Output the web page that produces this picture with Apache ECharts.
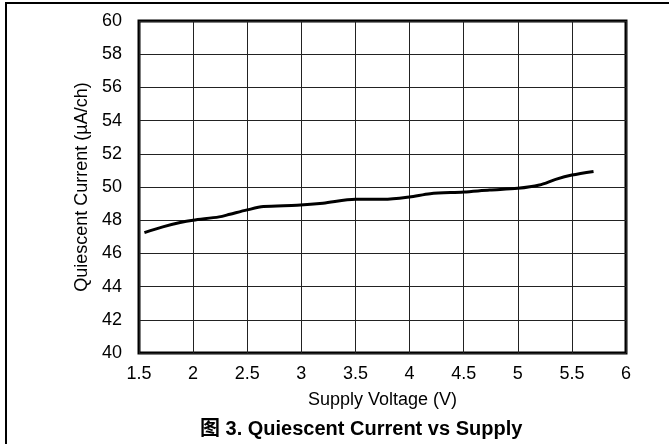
<!DOCTYPE html>
<html>
<head>
<meta charset="utf-8">
<script src="https://cdn.jsdelivr.net/npm/echarts@6/dist/echarts.min.js"></script>
<style>
html,body{margin:0;padding:0;background:#fff;}
#c{width:669px;height:444px;}
</style>
</head>
<body>
<div id="c"></div>
<script>
const voltage = [1.55, 1.72, 1.88, 2.0, 2.24, 2.34, 2.5, 2.65, 2.96, 3.2, 3.5, 3.76, 4.0, 4.19, 4.5, 4.74, 5.0, 5.2, 5.35, 5.5, 5.7];
const current = [47.25, 47.6, 47.86, 48.0, 48.2, 48.36, 48.62, 48.82, 48.9, 49.02, 49.26, 49.26, 49.4, 49.6, 49.7, 49.82, 49.92, 50.12, 50.46, 50.72, 50.94];
const xTicks = [1.5, 2, 2.5, 3, 3.5, 4, 4.5, 5, 5.5, 6];
const yTicks = [40, 42, 44, 46, 48, 50, 52, 54, 56, 58, 60];
const titleText = '图 3. Quiescent Current vs Supply';
const xName = 'Supply Voltage (V)';
const yName = 'Quiescent Current (µA/ch)';

const font = '"Liberation Sans", Arial, sans-serif';
const chart = echarts.init(document.getElementById('c'), null, {renderer: 'canvas'});
chart.setOption({
  animation: false,
  backgroundColor: '#fff',
  title: {
    text: titleText,
    left: 200,
    top: 419,
    padding: 0,
    textStyle: {fontFamily: '"Liberation Sans", "Noto Sans CJK SC", Arial, sans-serif', fontSize: 20, fontWeight: 'bold', color: '#000'}
  },
  grid: {left: 139, right: 43, top: 21, bottom: 91, show: true, borderColor: '#000', borderWidth: 3, backgroundColor: 'transparent'},
  xAxis: {
    type: 'value',
    min: xTicks[0], max: xTicks[xTicks.length - 1], interval: 0.5,
    name: xName, nameLocation: 'middle', nameGap: 38,
    nameTextStyle: {fontFamily: font, fontSize: 18, color: '#000', verticalAlign: 'top'},
    axisLine: {show: false},
    axisTick: {show: false},
    axisLabel: {fontFamily: font, fontSize: 18, color: '#000', margin: 12},
    splitLine: {show: true, lineStyle: {color: '#222', width: 1}}
  },
  yAxis: {
    type: 'value',
    min: yTicks[0], max: yTicks[yTicks.length - 1], interval: 2,
    name: yName, nameLocation: 'middle', nameGap: 45,
    nameTextStyle: {fontFamily: font, fontSize: 18, color: '#000'},
    axisLine: {show: false},
    axisTick: {show: false},
    axisLabel: {fontFamily: font, fontSize: 18, color: '#000', margin: 17},
    splitLine: {show: true, lineStyle: {color: '#222', width: 1}}
  },
  series: [{
    type: 'line',
    data: voltage.map((v, i) => [v, current[i]]),
    smooth: 0.3,
    showSymbol: false,
    lineStyle: {color: '#000', width: 3},
    z: 5
  }],
  graphic: [
    {type: 'line', shape: {x1: 5, y1: 3, x2: 669, y2: 3}, style: {stroke: '#000', lineWidth: 2}},
    {type: 'line', shape: {x1: 6, y1: 3, x2: 6, y2: 444}, style: {stroke: '#000', lineWidth: 2}}
  ]
});
</script>
</body>
</html>
